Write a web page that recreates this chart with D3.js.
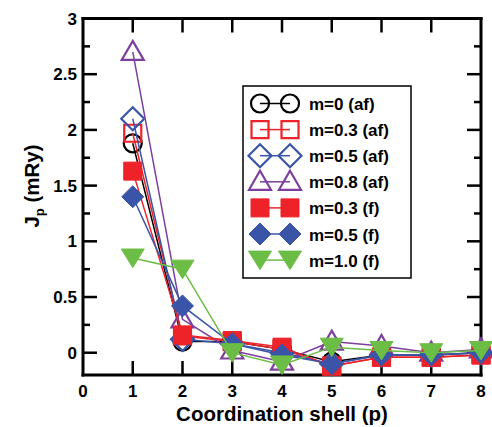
<!DOCTYPE html>
<html>
<head>
<meta charset="utf-8">
<script src="https://cdn.jsdelivr.net/npm/d3@7"></script>
<style>
  html, body { margin: 0; padding: 0; background: #fff; }
  svg { display: block; font-family: "Liberation Sans", Arial, Helvetica, sans-serif; font-weight: bold; }
</style>
</head>
<body>
<svg id="chart" width="492" height="427"></svg>
<script>
// Coordination shells
const shells = [1, 2, 3, 4, 5, 6, 7, 8];

// Exchange constants J_p (mRy) per series
const jM0af   = [1.88, 0.10, 0.10, 0.03, -0.08, -0.02, -0.02, 0.00];
const jM03af  = [1.97, 0.15, 0.10, 0.03, -0.12, -0.04, -0.04, -0.02];
const jM05af  = [2.10, 0.12, 0.08, 0.00, -0.10, -0.02, -0.02, 0.00];
const jM08af  = [2.70, 0.30, 0.02, -0.08, 0.10, 0.06, 0.00, 0.03];
const jM03f   = [1.63, 0.16, 0.11, 0.05, -0.12, -0.04, -0.04, -0.02];
const jM05f   = [1.40, 0.42, 0.08, -0.02, -0.10, -0.02, -0.02, 0.00];
const jM10f   = [0.85, 0.75, 0.00, -0.11, 0.05, 0.02, 0.00, 0.02];

const seriesLabels = ["m=0 (af)", "m=0.3 (af)", "m=0.5 (af)", "m=0.8 (af)", "m=0.3 (f)", "m=0.5 (f)", "m=1.0 (f)"];
const seriesValues = [jM0af, jM03af, jM05af, jM08af, jM03f, jM05f, jM10f];
const seriesColors = ["#000000", "#ee2229", "#3a55a8", "#7d3f9e", "#ee2229", "#3a55a8", "#6cbd45"];
const seriesShapes = ["circle", "square", "diamond", "triangle", "square", "diamond", "triangleDown"];
const seriesFilled = [false, false, false, false, true, true, true];

const xTicks = [0, 1, 2, 3, 4, 5, 6, 7, 8];
const yTicks = [0, 0.5, 1, 1.5, 2, 2.5, 3];
const yTickLabels = ["0", "0.5", "1", "1.5", "2", "2.5", "3"];
const yMinorTicks = [0.25, 0.75, 1.25, 1.75, 2.25, 2.75];

const svg = d3.select("#chart");
const plot = { left: 83, right: 481, top: 18.5, bottom: 375 };

const x = d3.scaleLinear().domain([0, 8]).range([plot.left, plot.right]);
const y = d3.scaleLinear().domain([-0.2, 3]).range([plot.bottom, plot.top]);

// Marker outlines, centred at the data point
function markerPath(shape, filled) {
  const p = d3.path();
  if (shape === "circle") {
    p.arc(0, 0, 9, 0, 2 * Math.PI);
  } else if (shape === "square") {
    const h = filled ? 9 : 8.5;
    p.rect(-h, -h, 2 * h, 2 * h);
  } else if (shape === "diamond") {
    const h = filled ? 11 : 11.5;
    p.moveTo(0, -h); p.lineTo(h, 0); p.lineTo(0, h); p.lineTo(-h, 0); p.closePath();
  } else if (shape === "triangle") {
    p.moveTo(0, -11); p.lineTo(11, 8); p.lineTo(-11, 8); p.closePath();
  } else if (shape === "triangleDown") {
    p.moveTo(0, 9.5); p.lineTo(11.5, -9); p.lineTo(-11.5, -9); p.closePath();
  }
  return p.toString();
}

function drawMarker(g, shape, filled, color) {
  g.append("path")
    .attr("d", markerPath(shape, filled))
    .attr("fill", filled ? color : "none")
    .attr("stroke", color)
    .attr("stroke-width", filled ? 1 : 2.2)
    .attr("stroke-linejoin", "miter");
}

// Frame and inward ticks, built as thin filled bars
const frameW = 3, tickW = 2.5, majorLen = 14, minorLen = 7;
const bars = [];
bars.push([plot.left - frameW / 2, plot.top - frameW / 2, plot.right - plot.left + frameW, frameW]);
bars.push([plot.left - frameW / 2, plot.bottom - frameW / 2, plot.right - plot.left + frameW, frameW]);
bars.push([plot.left - frameW / 2, plot.top - frameW / 2, frameW, plot.bottom - plot.top + frameW]);
bars.push([plot.right - frameW / 2, plot.top - frameW / 2, frameW, plot.bottom - plot.top + frameW]);
xTicks.slice(1, -1).forEach(t => {
  bars.push([x(t) - tickW / 2, plot.bottom - majorLen, tickW, majorLen]);
  bars.push([x(t) - tickW / 2, plot.top, tickW, majorLen]);
});
yTicks.forEach(t => {
  bars.push([plot.left, y(t) - tickW / 2, majorLen, tickW]);
  bars.push([plot.right - majorLen, y(t) - tickW / 2, majorLen, tickW]);
});
yMinorTicks.forEach(t => {
  bars.push([plot.left, y(t) - tickW / 2, minorLen, tickW]);
  bars.push([plot.right - minorLen, y(t) - tickW / 2, minorLen, tickW]);
});
svg.append("g").selectAll("rect").data(bars).join("rect")
  .attr("x", d => d[0]).attr("y", d => d[1])
  .attr("width", d => d[2]).attr("height", d => d[3])
  .attr("fill", "#000000");

// Data series: connecting line, then markers
const line = d3.line().x((d, i) => x(shells[i])).y(d => y(d));
seriesValues.forEach((vals, si) => {
  const g = svg.append("g");
  g.append("path")
    .attr("d", line(vals))
    .attr("fill", "none")
    .attr("stroke", seriesColors[si])
    .attr("stroke-width", 1.5);
  vals.forEach((v, i) => {
    const mg = g.append("g").attr("transform", `translate(${x(shells[i])},${y(v)})`);
    drawMarker(mg, seriesShapes[si], seriesFilled[si], seriesColors[si]);
  });
});

// Tick labels
svg.append("g").selectAll("text").data(xTicks).join("text")
  .attr("x", d => x(d)).attr("y", 397)
  .attr("text-anchor", "middle").attr("font-size", 17)
  .text(d => d);
svg.append("g").selectAll("text").data(yTicks).join("text")
  .attr("x", 77).attr("y", d => y(d) + 6)
  .attr("text-anchor", "end").attr("font-size", 17)
  .text((d, i) => yTickLabels[i]);

// Axis titles
svg.append("text")
  .attr("x", 282).attr("y", 421)
  .attr("text-anchor", "middle").attr("font-size", 20.5)
  .text("Coordination shell (p)");
const yt = svg.append("text")
  .attr("transform", "translate(39,186) rotate(-90)")
  .attr("text-anchor", "middle").attr("font-size", 20.5);
yt.append("tspan").text("J");
yt.append("tspan").attr("dy", 5).attr("font-size", 13).text("p");
yt.append("tspan").attr("dy", -5).text(" (mRy)");

// Legend
const legend = svg.append("g");
legend.append("rect")
  .attr("x", 243).attr("y", 86).attr("width", 168).attr("height", 192)
  .attr("fill", "#fff").attr("stroke", "#000").attr("stroke-width", 1.5);
seriesLabels.forEach((lab, si) => {
  const cy = 103.5 + si * 26.1;
  const row = legend.append("g");
  row.append("line").attr("x1", 260).attr("x2", 290).attr("y1", cy).attr("y2", cy)
    .attr("stroke", seriesColors[si]).attr("stroke-width", 1.5);
  [260, 290].forEach(cx => {
    drawMarker(row.append("g").attr("transform", `translate(${cx},${cy})`), seriesShapes[si], seriesFilled[si], seriesColors[si]);
  });
  row.append("text").attr("x", 309).attr("y", cy + 6.5)
    .attr("font-size", 17).text(lab);
});
</script>
</body>
</html>
